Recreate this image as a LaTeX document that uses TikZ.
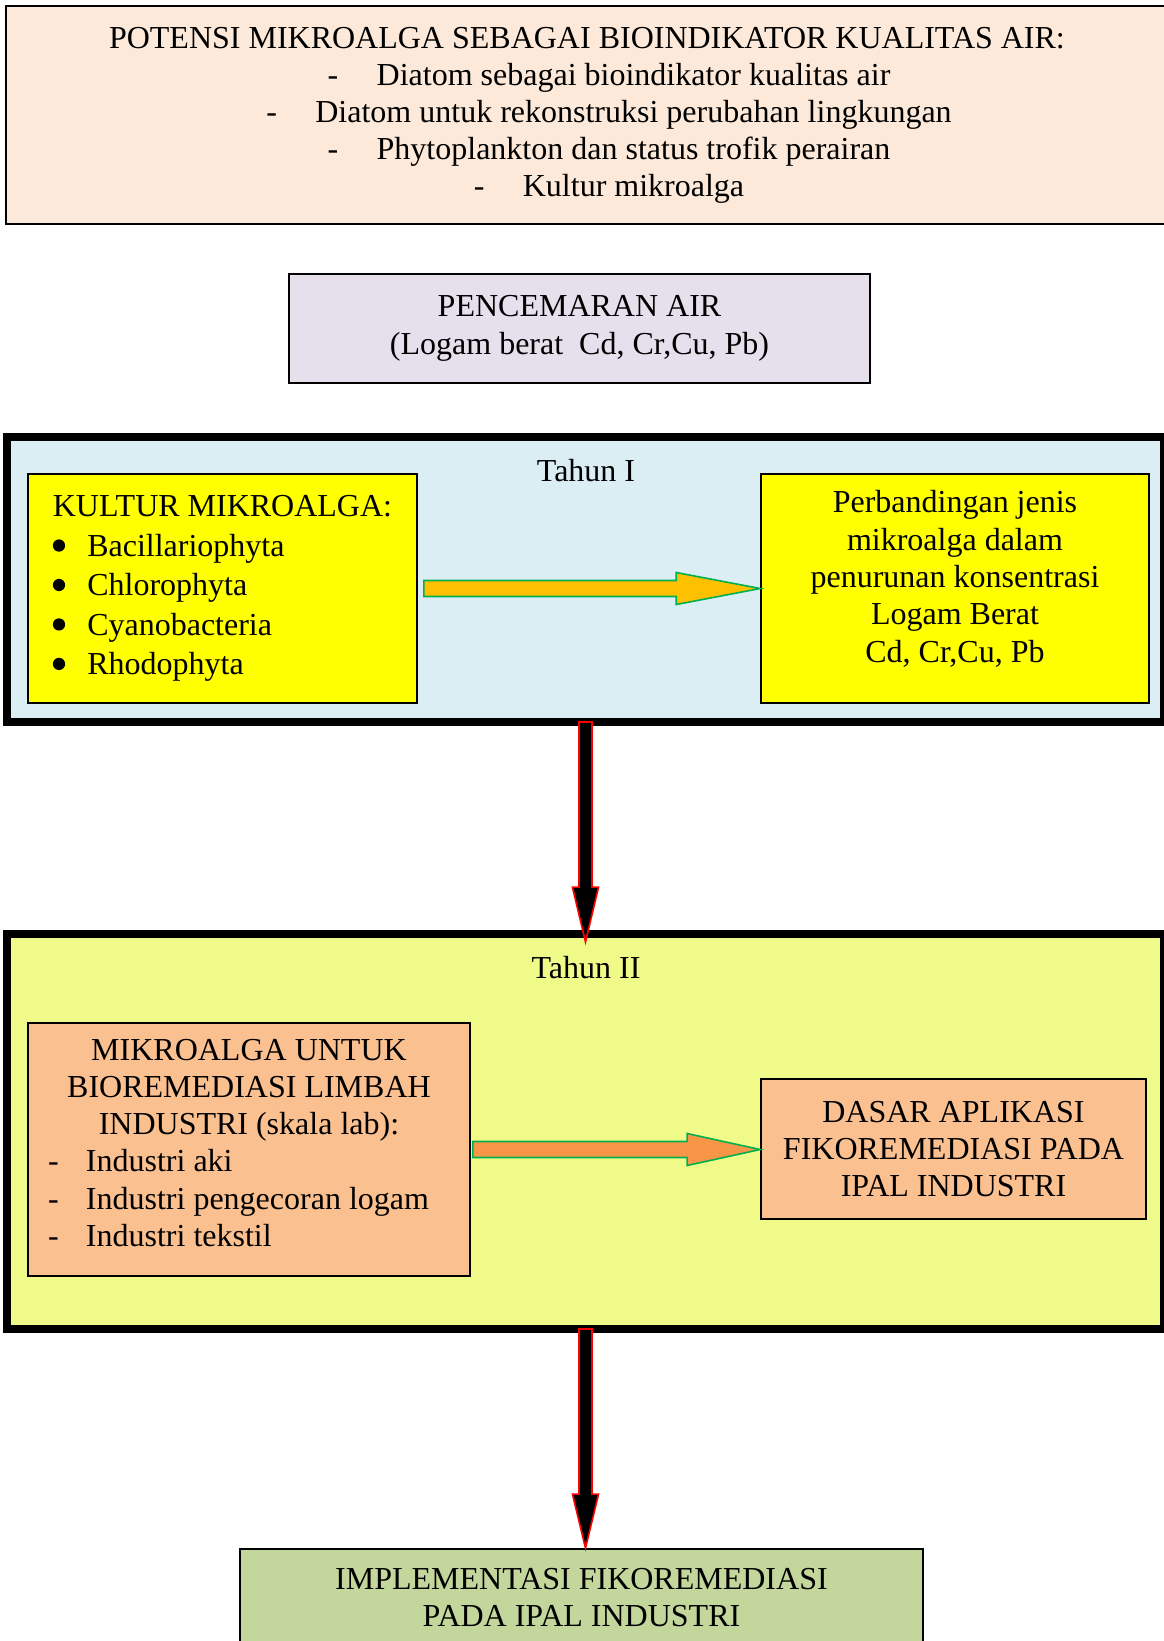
\documentclass[tikz,border=0pt]{standalone}
\usepackage{fontspec}
\setmainfont{Liberation Serif}
\usetikzlibrary{calc}

\definecolor{krem}{HTML}{FDE9D9}
\definecolor{ungu}{HTML}{E5E0EC}
\definecolor{biru}{HTML}{DAEEF3}
\definecolor{kuning}{HTML}{FFFF00}
\definecolor{hijaumuda}{HTML}{F0FA88}
\definecolor{jingga}{HTML}{FAC090}
\definecolor{emas}{HTML}{FFC000}
\definecolor{oranye}{HTML}{F79646}
\definecolor{hijau}{HTML}{00B050}
\definecolor{zaitun}{HTML}{C3D69B}

\newcommand{\garis}[1]{\hspace*{16.5pt}\makebox[18.4pt][l]{-}#1}
\newcommand{\butir}[1]{\makebox[150.75pt][l]{\makebox[14.25pt][l]{-}#1}}
\newcommand{\bulet}[1]{\makebox[12.9pt][l]{\tikz[baseline=-4pt]\fill (0,0) circle (2.3pt);}#1}

% panah blok: gaya, dari, ke, panjang kepala
\newcommand{\panahkanan}[4]{%
  \filldraw[#1] let \p1=(#2), \p2=(#3) in
    (\x1,\y1+3pt) -- (\x2-#4,\y1+3pt) -- (\x2-#4,\y1+6pt) -- (\x2,\y1)
    -- (\x2-#4,\y1-6pt) -- (\x2-#4,\y1-3pt) -- (\x1,\y1-3pt) -- cycle;}
\newcommand{\panahbawah}[3]{%
  \filldraw[panah hitam] let \p1=(#1), \p2=(#2) in
    (\x1-2.44pt,\y1) -- (\x1-2.44pt,\y2+#3) -- (\x1-4.9pt,\y2+#3) -- (\x1,\y2)
    -- (\x1+4.9pt,\y2+#3) -- (\x1+2.44pt,\y2+#3) -- (\x1+2.44pt,\y1) -- cycle;}

\begin{document}
\begin{tikzpicture}[x=0.375pt, y=-0.375pt,
    every node/.style={font=\fontsize{12pt}{13.9pt}\selectfont},
    kotak/.style={draw, line width=0.6pt, align=center},
    bingkai/.style={draw, line width=3pt, outer sep=0pt, minimum width=433.9pt},
    panah kuning/.style={fill=emas, draw=hijau, line width=0.6pt},
    panah oranye/.style={fill=oranye, draw=hijau, line width=0.6pt},
    panah hitam/.style={fill=black, draw=red, line width=0.6pt}]

  \useasboundingbox (0,0) rectangle (1163,1641);

  \node[kotak, fill=krem, line width=0.8pt, minimum width=435.75pt, minimum height=81.75pt] (potensi) at (587,115)
    {POTENSI MIKROALGA SEBAGAI BIOINDIKATOR KUALITAS AIR:\\
     \garis{Diatom sebagai bioindikator kualitas air}\\
     \garis{Diatom untuk rekonstruksi perubahan lingkungan}\\
     \garis{Phytoplankton dan status trofik perairan}\\
     \garis{Kultur mikroalga}};

  \node[kotak, fill=ungu, minimum width=217.9pt, minimum height=40.9pt,
        font=\fontsize{12pt}{14.2pt}\selectfont] (cemar) at (579.5,328.5)
    {PENCEMARAN AIR\\(Logam berat~ Cd, Cr,Cu, Pb)};

  % Tahun I
  \node[bingkai, fill=biru, minimum height=106.9pt] (tahun1) at (585.5,579.5) {};
  \node[anchor=base] (judul1) at (586,481) {Tahun I};
  \node[kotak, fill=kuning, minimum width=145.9pt, minimum height=85.9pt, align=left,
        font=\fontsize{12pt}{14.8pt}\selectfont] (kultur) at (222.5,588.5)
    {KULTUR MIKROALGA:\\
     \bulet{Bacillariophyta}\\
     \bulet{Chlorophyta}\\
     \bulet{Cyanobacteria}\\
     \bulet{Rhodophyta}};
  \node[kotak, fill=kuning, minimum width=145.5pt, minimum height=85.9pt,
        font=\fontsize{12pt}{14pt}\selectfont] (banding) at (955,588.5)
    {Perbandingan jenis\\mikroalga dalam\\penurunan konsentrasi\\Logam Berat\\Cd, Cr,Cu, Pb\rule[-9pt]{0pt}{0pt}};

  % Tahun II
  \node[bingkai, fill=hijaumuda, minimum height=148.1pt] (tahun2) at (585.5,1131.5) {};
  \node[anchor=base] (judul2) at (586,978) {Tahun II};
  \node[kotak, fill=jingga, minimum width=165.75pt, minimum height=94.9pt] (mikro) at (249,1149.5)
    {MIKROALGA UNTUK\\BIOREMEDIASI LIMBAH\\INDUSTRI (skala lab):\\
     \butir{Industri aki}\\
     \butir{Industri pengecoran logam}\\
     \butir{Industri tekstil}\rule[-5pt]{0pt}{0pt}};
  \node[kotak, fill=jingga, minimum width=144.4pt, minimum height=52.5pt,
        font=\fontsize{12pt}{14pt}\selectfont] (dasar) at (953.5,1149)
    {DASAR APLIKASI\\FIKOREMEDIASI PADA\\IPAL INDUSTRI};

  \node[kotak, fill=zaitun, minimum width=256.1pt, minimum height=36.4pt] (implementasi) at (581.5,1597.5)
    {IMPLEMENTASI FIKOREMEDIASI\\PADA IPAL INDUSTRI};

  % panah
  \panahkanan{panah kuning}{$(kultur.east)+(6,0)$}{banding.west}{31.5pt}
  \panahkanan{panah oranye}{$(mikro.east)+(2,0)$}{dasar.west}{27.4pt}
  \panahbawah{tahun1.south}{$(tahun2.north)+(0,8)$}{20.6pt}
  \panahbawah{tahun2.south}{implementasi.north}{20.3pt}

\end{tikzpicture}
\end{document}
